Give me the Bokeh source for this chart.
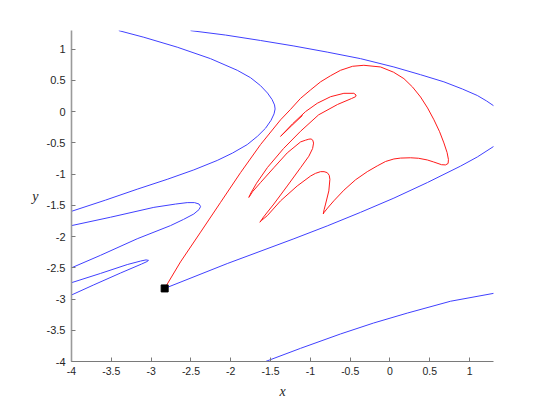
from bokeh.plotting import figure
from bokeh.models import Range1d, FixedTicker, CustomJSTickFormatter
from bokeh.embed import file_html
from bokeh.resources import INLINE

# ---- data ----
fixed_x = [-2.83]
fixed_y = [-2.83]

# unstable manifold (red)
red_x = [-2.83, -2.631, -2.379, -2.128, -1.877, -1.626, -1.374, -1.249, -1.123, -0.997,
         -0.872, -0.746, -0.621, -0.470, -0.328, -0.118, 0.045, 0.175, 0.284, 0.384,
         0.472, 0.552, 0.623, 0.677, 0.717, 0.734, 0.730, 0.698, 0.648, 0.548,
         0.469, 0.359, 0.259, 0.133, 0.049, -0.055, -0.160, -0.285, -0.432, -0.579,
         -0.705, -0.784, -0.828, -0.838, -0.827, -0.809, -0.768, -0.755, -0.763, -0.788,
         -0.828, -0.872, -0.935, -0.997, -1.165, -1.374, -1.541, -1.613, -1.634, -1.588,
         -1.459, -1.290, -1.123, -1.019, -0.972, -0.960, -0.970, -0.991, -1.019, -1.060,
         -1.123, -1.290, -1.459, -1.626, -1.726, -1.773, -1.745, -1.676, -1.538, -1.337,
         -1.123, -0.897, -0.658, -0.482, -0.432, -0.426, -0.454, -0.579, -0.746, -0.913,
         -1.060, -1.224, -1.374, -1.236, -1.098]
red_y = [-2.83, -2.405, -1.929, -1.452, -0.976, -0.527, -0.130, 0.037, 0.214, 0.349,
         0.478, 0.576, 0.663, 0.727, 0.743, 0.716, 0.632, 0.529, 0.394, 0.235,
         0.060, -0.130, -0.321, -0.500, -0.654, -0.765, -0.829, -0.852, -0.849, -0.805,
         -0.773, -0.746, -0.738, -0.743, -0.757, -0.797, -0.868, -0.960, -1.090, -1.257,
         -1.427, -1.543, -1.614, -1.638, -1.567, -1.479, -1.268, -1.083, -1.019, -0.976,
         -0.960, -0.960, -0.987, -1.030, -1.189, -1.427, -1.665, -1.741, -1.770, -1.686,
         -1.479, -1.189, -0.897, -0.713, -0.590, -0.503, -0.456, -0.437, -0.440, -0.456,
         -0.484, -0.659, -0.897, -1.135, -1.281, -1.373, -1.297, -1.146, -0.892, -0.590,
         -0.313, -0.051, 0.116, 0.211, 0.240, 0.267, 0.294, 0.294, 0.240, 0.135,
         0.002, -0.194, -0.395, -0.225, -0.059]

# stable manifold pieces (blue)
b1_x = [-3.406, -3.092, -2.672, -2.254, -1.918, -1.751, -1.626, -1.538, -1.481, -1.450,
        -1.443, -1.456, -1.494, -1.563, -1.663, -1.793, -1.977, -2.170, -2.464, -2.798,
        -3.175, -3.573, -4.0]
b1_y = [1.298, 1.192, 1.033, 0.849, 0.663, 0.544, 0.417, 0.298, 0.195, 0.108,
        0.044, -0.035, -0.138, -0.265, -0.392, -0.527, -0.662, -0.781, -0.932, -1.083,
        -1.241, -1.416, -1.595]

b2_x = [-4.0, -3.510, -2.966, -2.693, -2.547, -2.455, -2.398, -2.379, -2.398, -2.464,
        -2.593, -2.756, -3.175, -3.636, -4.0]
b2_y = [-1.824, -1.690, -1.532, -1.479, -1.456, -1.456, -1.479, -1.519, -1.567, -1.638,
        -1.725, -1.824, -2.035, -2.300, -2.500]

b3_x = [-4.0, -3.636, -3.300, -3.133, -3.064, -3.033, -3.052, -3.121, -3.384, -3.720, -4.0]
b3_y = [-2.738, -2.590, -2.448, -2.392, -2.373, -2.381, -2.400, -2.440, -2.583, -2.773, -2.935]

b4_x = [-2.83, -2.044, -1.207, -0.788, -0.369, 0.049, 0.469, 0.887, 1.097, 1.305]
b4_y = [-2.83, -2.432, -2.035, -1.829, -1.611, -1.384, -1.135, -0.871, -0.725, -0.554]

b5_x = [-2.505, -2.065, -1.626, -1.207, -0.788, -0.369, 0.049, 0.384, 0.677, 0.912,
        1.097, 1.214, 1.305]
b5_y = [1.298, 1.227, 1.140, 1.052, 0.954, 0.849, 0.716, 0.592, 0.478, 0.362,
        0.259, 0.171, 0.092]

b6_x = [-1.563, -1.123, -0.621, -0.206, 0.217, 0.761, 1.305]
b6_y = [-4.0, -3.789, -3.559, -3.384, -3.225, -3.035, -2.908]

x_ticks = [-4, -3.5, -3, -2.5, -2, -1.5, -1, -0.5, 0, 0.5, 1]
y_ticks = [-4, -3.5, -3, -2.5, -2, -1.5, -1, -0.5, 0, 0.5, 1]

# ---- figure ----
p = figure(width=529, height=401, output_backend="svg", toolbar_location=None,
           x_range=Range1d(-4, 1.3), y_range=Range1d(-4, 1.3),
           min_border_left=71, min_border_right=36, min_border_top=30, min_border_bottom=37)
p.outline_line_color = None
p.grid.visible = False
p.background_fill_color = "white"

blue = "#4040ff"
for bx, by in [(b1_x, b1_y), (b2_x, b2_y), (b3_x, b3_y), (b4_x, b4_y), (b5_x, b5_y), (b6_x, b6_y)]:
    p.line(bx, by, line_color=blue, line_width=1.0)

p.line(red_x, red_y, line_color="#ff1a1a", line_width=1.0)
p.scatter(fixed_x, fixed_y, marker="square", size=7, fill_color="black", line_color="black")

fmt = CustomJSTickFormatter(code="return String(tick);")
p.xaxis.ticker = FixedTicker(ticks=x_ticks)
p.yaxis.ticker = FixedTicker(ticks=y_ticks)
for ax in (p.xaxis, p.yaxis):
    ax.formatter = fmt
    ax.major_tick_in = 4
    ax.major_tick_out = 0
    ax.minor_tick_line_color = None
    ax.major_label_text_font = "Liberation Sans"
    ax.major_label_text_color = "#262626"
    ax.axis_label_text_font = "Liberation Serif"
    ax.axis_label_text_font_style = "italic"
    ax.axis_label_text_font_size = "14px"
    ax.axis_label_text_color = "#262626"
p.xaxis.major_label_text_font_size = "10.5px"
p.yaxis.major_label_text_font_size = "11px"
p.xaxis.major_label_standoff = 5
p.yaxis.major_label_standoff = 6
p.xaxis.axis_label = "x"
p.xaxis.axis_label_standoff = 6
p.yaxis.axis_label = "y"
p.yaxis.axis_label_standoff = 5
p.yaxis.axis_label_orientation = "horizontal"
p.xaxis.axis_line_color = "#7a7a7a"
p.xaxis.major_tick_line_color = "#7a7a7a"
p.yaxis.axis_line_color = "#9a9a9a"
p.yaxis.axis_line_width = 1.6
p.yaxis.major_tick_line_color = "#7a7a7a"

open("out.html", "w").write(file_html(p, INLINE))
